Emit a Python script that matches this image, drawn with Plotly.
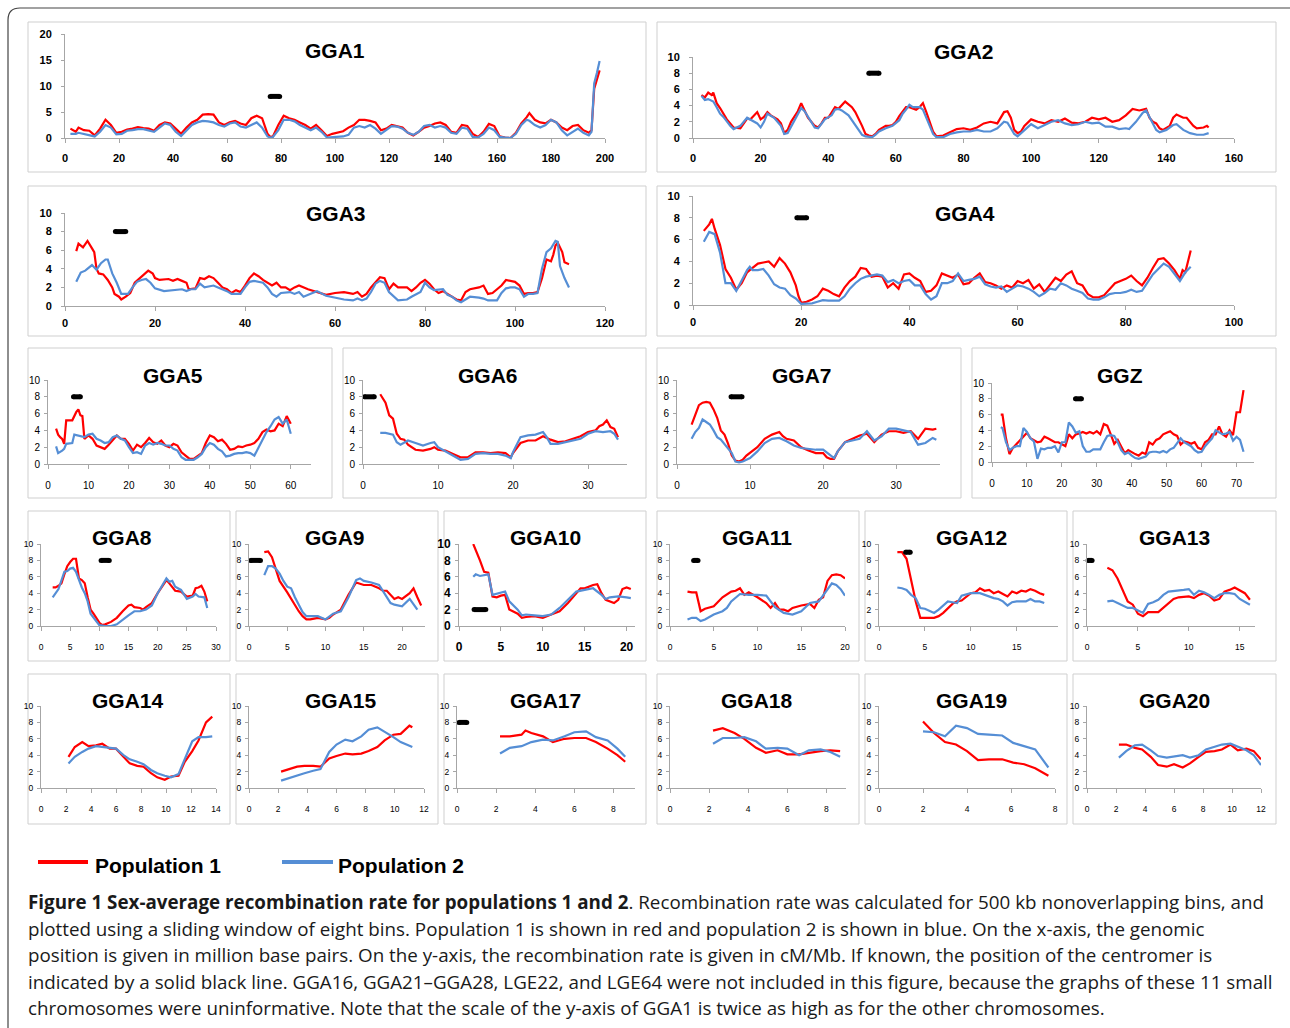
import plotly.graph_objects as go

W, H = 1290, 1028
RED = "#ff0000"
BLUE = "#558ed5"

# ---------------- data: (position Mb, recombination rate cM/Mb) ----------------
GGA1_POP1 = [(2,1.8),(4,1.2),(5,2.0),(7,1.5),(9,1.4),(11,0.5),(13,1.8),(15,3.5),(17,2.5),(19,1.0),(21,1.2),(23,1.6),(25,1.8),(27,2.1),(29,1.9),(31,1.8),(33,1.4),(35,2.5),(37,3.0),(39,2.8),(41,1.8),(43,0.8),(45,2.0),(47,3.0),(49,3.5),(51,4.5),(53,4.6),(55,4.5),(57,3.0),(59,2.5),(61,3.0),(63,3.3),(65,2.8),(67,2.5),(69,3.8),(71,4.3),(73,3.8),(75,0.8),(76,0.2),(77,0.3),(79,2.5),(81,4.3),(83,3.8),(85,3.5),(87,3.0),(89,2.5),(91,1.8),(93,2.5),(95,1.5),(97,0.4),(99,0.8),(101,1.0),(103,1.3),(105,2.0),(107,2.5),(109,3.5),(111,3.5),(113,3.3),(115,3.0),(117,1.5),(119,1.8),(121,2.5),(123,2.2),(125,2.0),(127,1.0),(129,0.5),(131,1.2),(133,2.0),(135,2.3),(137,2.8),(139,3.0),(141,2.5),(143,1.2),(145,1.0),(147,2.5),(149,2.3),(151,0.8),(153,0.2),(155,1.2),(157,2.7),(159,2.3),(161,0.3),(163,0.1),(165,0.0),(167,1.0),(169,2.8),(171,4.0),(172,4.8),(174,3.5),(176,3.0),(178,2.8),(180,3.5),(182,3.0),(184,2.0),(186,1.5),(188,2.3),(190,2.5),(192,1.5),(194,1.0),(195,1.5),(196,9.5),(197,11.5),(198,13.0)]
GGA1_POP2 = [(2,0.8),(4,0.8),(5,1.0),(7,0.8),(9,0.6),(11,0.3),(13,1.2),(15,2.5),(17,2.0),(19,0.7),(21,0.8),(23,1.4),(25,1.5),(27,1.7),(29,1.7),(31,1.5),(33,1.2),(35,2.0),(37,2.8),(39,2.5),(41,1.2),(43,0.4),(45,1.5),(47,2.5),(49,3.0),(51,3.3),(53,3.2),(55,3.0),(57,2.5),(59,2.2),(61,2.8),(63,3.0),(65,2.2),(67,2.0),(69,2.5),(71,3.0),(73,2.0),(75,0.3),(76,0.1),(77,0.2),(79,1.5),(81,3.5),(83,3.5),(85,3.2),(87,2.5),(89,2.0),(91,1.5),(93,2.0),(95,1.2),(97,0.1),(99,0.2),(101,0.3),(103,0.3),(105,0.6),(107,2.0),(109,2.3),(111,2.0),(113,2.5),(115,1.8),(117,0.8),(119,1.5),(121,2.3),(123,2.2),(125,1.8),(127,1.0),(129,0.6),(131,1.2),(133,2.3),(135,2.5),(137,2.0),(139,2.3),(141,2.0),(143,1.0),(145,0.8),(147,2.0),(149,1.8),(151,0.2),(153,0.1),(155,0.8),(157,2.0),(159,1.5),(161,0.2),(163,0.1),(165,0.0),(167,0.8),(169,2.5),(171,3.5),(172,3.3),(174,2.5),(176,2.0),(178,2.5),(180,3.5),(182,3.0),(184,1.5),(186,0.5),(188,1.2),(190,1.8),(192,1.0),(194,0.5),(195,1.2),(196,10.5),(197,12.5),(198,14.8)]

GGA2_POP1 = [(2.5,5.3),(3.5,5.0),(4.5,5.6),(5.5,5.3),(6,5.6),(7,4.3),(8,3.7),(9,3.0),(10,2.3),(11,1.8),(12,1.3),(14,1.2),(15,1.8),(16,2.4),(17,2.3),(18,2.8),(19,3.2),(20,2.3),(21,2.6),(22,3.2),(23,2.8),(25,2.3),(26,1.8),(27,0.6),(28,1.0),(29,2.0),(31,3.3),(32,4.3),(33,3.5),(34,2.5),(36,1.5),(37,1.3),(38,1.8),(39,2.5),(40,2.5),(42,3.8),(43,3.6),(44,4.0),(45,4.5),(47,3.8),(48,3.2),(50,1.5),(51,0.5),(52,0.3),(53,0.2),(54,0.5),(55,1.0),(57,1.5),(58,1.5),(59,1.6),(60,2.0),(61,2.7),(62,3.3),(63,3.8),(64,3.8),(65,3.6),(66,3.5),(67,3.8),(68,4.3),(69,3.2),(70,2.0),(71,0.8),(72,0.2),(74,0.3),(76,0.7),(78,1.1),(80,1.2),(82,1.0),(84,1.3),(86,1.8),(88,2.0),(90,1.8),(92,3.2),(93,3.3),(94,2.5),(95,1.0),(96,0.6),(97,0.8),(98,1.5),(100,2.3),(102,2.0),(104,1.8),(106,2.2),(108,2.0),(110,2.4),(112,1.9),(114,1.8),(116,2.0),(118,2.5),(120,2.3),(122,2.5),(124,2.0),(126,2.2),(128,2.8),(130,3.6),(132,3.4),(134,3.6),(135,2.5),(136,2.0),(137,1.8),(138,1.2),(139,1.0),(141,1.5),(142,2.5),(143,2.9),(145,2.5),(146,2.5),(147,2.0),(148,1.5),(149,1.2),(151,1.3),(152,1.5),(152.5,1.3)]
GGA2_POP2 = [(2.5,5.2),(3.5,4.7),(4.5,4.8),(6,4.5),(7,3.8),(8,3.0),(9,2.6),(10,2.0),(11,1.5),(12,1.1),(14,1.5),(16,2.5),(18,2.0),(19,1.8),(20,1.3),(21,2.0),(22,3.0),(24,2.5),(26,1.5),(27,0.5),(28,0.6),(30,2.2),(32,3.7),(33,3.3),(35,2.0),(36,1.3),(37,1.2),(39,2.3),(41,2.8),(42,3.5),(43,3.6),(44,3.4),(46,2.8),(47,2.2),(49,1.0),(50,0.4),(51,0.2),(53,0.1),(54,0.4),(55,0.8),(57,1.2),(59,1.5),(61,2.2),(62,3.0),(63,3.5),(64,4.1),(65,3.8),(67,3.8),(68,3.5),(69,2.5),(70,1.5),(71,0.5),(72,0.1),(74,0.1),(76,0.5),(78,0.7),(80,0.8),(82,0.8),(84,1.0),(86,0.8),(88,0.8),(90,1.2),(92,2.0),(93,1.9),(94,1.2),(95,0.5),(96,0.2),(97,0.6),(99,1.3),(100,1.7),(102,1.2),(104,1.6),(106,2.0),(108,2.2),(110,1.8),(112,1.6),(114,1.7),(116,2.0),(118,1.8),(120,1.9),(122,1.4),(124,1.4),(126,1.1),(128,1.2),(129,1.1),(131,2.0),(133,3.1),(134,3.4),(135,2.5),(136,1.8),(137,1.0),(138,0.7),(140,1.0),(142,1.6),(143,1.7),(145,1.0),(147,0.6),(149,0.4),(151,0.4),(152.5,0.6)]

GGA3_POP1 = [(2.5,5.9),(3,6.7),(4,6.3),(5,7.0),(6,6.2),(6.5,5.8),(7,4.0),(7.5,3.5),(8.5,3.4),(9.5,2.8),(10.5,2.0),(11,1.3),(12,1.0),(12.5,0.7),(13.5,1.0),(14.5,1.4),(15.5,2.5),(16.5,2.9),(17.5,3.3),(18.5,3.8),(19.5,3.5),(20,3.0),(21,2.8),(23,2.9),(24,2.7),(25,2.9),(26,2.7),(27,2.5),(27.5,1.8),(29,1.9),(30,3.0),(31,2.9),(32,3.2),(33,3.0),(34,2.5),(35,2.0),(36,1.8),(37,1.4),(38,1.7),(39,1.5),(40,2.2),(41,3.0),(42,3.5),(43,3.2),(44,2.8),(45,2.5),(46,2.2),(47,2.5),(48,2.0),(49,2.0),(50,1.7),(51,2.0),(52,2.2),(54,1.8),(56,1.5),(58,1.2),(60,1.4),(62,1.5),(64,1.3),(65,1.5),(66,1.0),(67,1.3),(68,2.0),(69,2.5),(70,3.1),(71,3.0),(72,1.8),(73,2.4),(74,2.0),(76,2.0),(77,1.6),(78,2.0),(79,2.5),(80,2.8),(81,2.4),(82,1.8),(83,1.4),(84,1.6),(85,1.3),(86,1.0),(87,0.7),(88,0.6),(89,1.5),(90,1.8),(92,2.0),(93,2.2),(94,1.3),(95,1.4),(97,2.2),(98,2.8),(100,2.6),(101,2.2),(102,1.3),(103,1.4),(104,1.4),(105,1.5),(106,3.0),(107,5.0),(108,4.8),(108.5,5.5),(109,6.5),(109.5,6.8),(110.5,5.8),(111,4.7),(112,4.5)]
GGA3_POP2 = [(2.5,2.6),(3.5,3.6),(4.5,3.8),(5.5,4.2),(6,4.4),(7,3.9),(8,4.6),(9,5.0),(9.5,5.0),(10.5,3.5),(11.5,2.5),(12.5,1.3),(14,1.3),(15,2.0),(16,2.6),(17,2.8),(18,2.9),(19,2.5),(20,1.9),(22,1.6),(24,1.7),(26,1.8),(27,1.6),(28,1.8),(29,1.8),(30,2.4),(31,2.0),(32,2.1),(33,2.2),(34,2.0),(36,1.6),(37,1.3),(39,1.3),(40,2.0),(41,2.6),(42,2.7),(44,2.5),(45,2.0),(46,1.3),(47,1.0),(48,1.4),(50,1.5),(51,1.3),(52,1.5),(53,1.0),(55,1.4),(56,1.6),(58,1.1),(60,0.9),(62,0.7),(64,0.6),(65,0.8),(66,0.6),(67,0.8),(68,1.5),(69,2.4),(70,2.7),(71,2.5),(72,1.5),(73,1.0),(74,0.6),(76,0.7),(77,1.0),(79,1.5),(80,2.5),(81,2.0),(82,1.7),(84,1.8),(85,1.2),(86,1.0),(87,0.6),(88,0.4),(89,0.7),(90,1.0),(92,0.9),(93,0.8),(94,0.6),(96,0.6),(97,1.4),(98,1.9),(99,2.0),(100,2.0),(101,1.8),(102,1.0),(103,1.3),(104,1.3),(105,1.4),(106,4.0),(107,5.8),(108,6.2),(109,7.0),(109.5,6.9),(110,4.3),(111,3.0),(112,2.0)]

GGA4_POP1 = [(2,6.8),(3,7.4),(3.5,7.9),(4,7.0),(5,5.5),(6,3.3),(7,2.5),(8,1.4),(9,2.0),(10,3.0),(11,3.4),(12,3.8),(13,3.9),(14,4.0),(15,3.5),(16,4.3),(17,3.8),(18,3.0),(19,1.8),(19.5,0.8),(20,0.2),(21,0.3),(22,0.5),(23,0.8),(24,1.5),(25,1.3),(26,1.0),(27,0.8),(28,1.6),(29,2.2),(30,2.6),(31,3.4),(32,3.3),(33,2.6),(34,2.7),(35,2.6),(36,1.6),(37,2.0),(38,1.5),(39,2.8),(40,2.9),(41,2.5),(42,2.2),(43,1.2),(44,1.3),(45,1.8),(46,2.9),(47,2.7),(48,2.5),(49,2.8),(50,1.9),(51,2.0),(52,2.5),(53,2.9),(54,2.1),(55,2.0),(56,1.8),(57,1.5),(58,1.8),(59,1.6),(60,2.2),(61,2.0),(62,2.3),(63,1.5),(64,1.9),(65,1.2),(66,1.8),(67,2.5),(68,2.2),(69,2.8),(70,3.1),(71,2.0),(72,1.8),(73,1.0),(74,0.7),(75,0.7),(76,0.9),(77,1.5),(78,2.0),(79,2.2),(80,2.4),(81,2.7),(82,2.2),(83,1.8),(84,2.5),(85,3.4),(86,4.2),(87,4.3),(88,3.8),(89,3.2),(90,2.4),(90.5,3.2),(91,3.0),(92,5.0)]
GGA4_POP2 = [(2,5.8),(3,6.7),(4,6.5),(5,4.8),(6,2.0),(7,2.0),(8,1.3),(9,2.3),(10,3.2),(10.5,3.5),(11,3.2),(12,3.2),(13,3.3),(14,2.7),(15,1.9),(16,1.6),(17,1.5),(18,0.9),(19,0.6),(20,0.1),(21,0.1),(22,0.15),(23,0.3),(24,0.45),(25,0.4),(26,0.4),(27,0.4),(28,0.8),(29,1.5),(30,2.0),(31,2.4),(32,2.6),(33,2.7),(34,2.8),(35,2.7),(36,2.1),(37,2.3),(38,2.0),(39,2.2),(40,2.3),(41,1.8),(42,1.8),(43,1.0),(44,0.5),(45,0.8),(46,2.0),(47,2.0),(48,2.2),(49,2.9),(50,2.2),(51,2.3),(52,2.4),(53,2.6),(54,1.9),(55,1.7),(56,1.6),(57,1.7),(58,1.2),(59,1.5),(60,1.8),(61,1.7),(62,1.5),(63,1.2),(64,0.8),(65,1.1),(66,1.5),(67,1.4),(68,2.0),(69,1.8),(70,1.5),(71,1.3),(72,1.1),(73,0.6),(74,0.5),(75,0.5),(76,0.7),(77,1.0),(78,1.1),(79,1.1),(80,1.2),(81,1.4),(82,1.2),(83,1.3),(84,2.0),(85,2.8),(86,3.3),(87,3.8),(88,3.5),(89,2.8),(90,2.2),(91,3.0),(92,3.5)]

GGA5_POP1 = [(2,4.2),(2.5,3.5),(3,3.2),(3.5,3.0),(4,2.4),(4.5,5.2),(6,5.2),(6.5,5.8),(7,6.2),(7.5,6.5),(8,5.8),(8.5,5.7),(9,3.0),(10,3.4),(11,3.0),(12,2.2),(13,2.0),(14,1.8),(15,2.3),(16,2.8),(17,3.4),(18,3.0),(19,3.0),(20,2.4),(21,1.6),(22,2.3),(23,2.0),(24,2.5),(25,3.1),(26,2.6),(27,2.4),(28,2.8),(29,2.2),(30,2.0),(31,2.4),(32,2.2),(33,1.4),(34,1.0),(35,0.6),(36,0.6),(37,1.0),(38,1.3),(39,2.5),(40,3.4),(41,3.2),(42,2.7),(43,2.9),(44,2.4),(45,1.7),(46,1.8),(47,2.1),(48,2.0),(49,2.2),(50,2.3),(51,2.5),(52,3.0),(53,3.8),(54,4.1),(55,3.9),(56,4.0),(57,4.8),(58,4.5),(59,5.7),(60,4.8)]
GGA5_POP2 = [(2,2.1),(2.5,1.3),(3.5,1.6),(4,1.8),(4.5,2.4),(6,2.5),(6.5,3.5),(7.5,3.4),(9,3.2),(10,3.5),(11,3.6),(12,3.0),(13,2.8),(14,2.5),(15,2.6),(16,3.2),(17,3.4),(18,3.0),(19,2.8),(20,2.0),(21,1.3),(22,1.4),(23,1.2),(24,2.2),(25,2.5),(26,2.3),(27,2.5),(28,2.4),(29,2.2),(30,2.2),(31,1.8),(32,1.6),(33,0.8),(34,0.5),(35,0.5),(36,0.5),(37,0.8),(38,1.2),(39,2.0),(40,2.5),(41,2.3),(42,1.8),(43,1.5),(44,0.9),(45,1.0),(46,1.2),(47,1.3),(48,1.3),(49,1.4),(50,1.3),(51,1.0),(52,2.0),(53,2.8),(54,3.8),(55,4.5),(56,5.3),(57,5.6),(58,4.8),(59,5.3),(60,3.6)]

GGA6_POP1 = [(2.3,8.3),(3,7.3),(3.5,5.8),(4,5.4),(4.5,3.6),(5,3.0),(5.5,2.9),(6,2.3),(7,1.7),(8,1.6),(9,1.8),(9.5,2.0),(10,1.7),(11,1.6),(12,1.2),(13,0.8),(14,0.8),(15,1.4),(16,1.4),(17,1.3),(18,1.4),(19,1.3),(19.7,0.8),(20,1.3),(21,2.5),(22,2.8),(23,2.8),(24,3.3),(25,2.9),(26,2.6),(27,2.7),(28,3.0),(29,3.3),(30,3.8),(31,4.0),(31.5,4.5),(32,4.7),(32.5,5.2),(33,4.4),(33.5,4.2),(34,3.2)]
GGA6_POP2 = [(2.3,3.7),(3,3.7),(4,3.5),(4.5,2.6),(5,2.3),(6,2.8),(7,2.5),(8,2.2),(9,2.5),(9.5,2.6),(10,2.0),(11,1.5),(12,1.0),(13,0.5),(14,0.6),(15,1.2),(16,1.3),(17,1.2),(18,1.2),(19,1.0),(19.7,0.7),(20,1.4),(21,3.2),(22,3.4),(23,3.5),(24,3.8),(24.5,3.2),(25,2.4),(26,2.4),(27,2.6),(28,2.8),(29,3.0),(30,3.6),(31,3.9),(32,3.8),(33,3.9),(33.5,3.6),(34,2.9)]

GGA7_POP1 = [(2,4.7),(2.5,5.8),(3,7.0),(3.5,7.3),(4,7.4),(4.5,7.3),(5,6.5),(5.5,5.5),(6,4.0),(6.5,3.5),(7,2.4),(7.5,1.0),(8,0.4),(8.5,0.3),(9,0.5),(9.5,1.0),(10,1.3),(11,2.0),(12,3.0),(13,3.5),(14,3.8),(14.5,3.3),(15,3.0),(16,2.8),(17,2.0),(18,1.6),(19,1.3),(20,1.3),(20.5,0.8),(21,0.6),(21.5,0.6),(22,1.5),(23,2.6),(24,3.0),(25,3.4),(26,3.6),(27,2.6),(28,3.5),(29,3.9),(30,3.9),(31,3.7),(32,3.9),(33,3.0),(34,4.2),(35,4.1),(35.5,4.2)]
GGA7_POP2 = [(2,3.0),(2.5,3.8),(3,4.3),(3.5,5.3),(4,5.0),(4.5,4.7),(5,4.0),(5.5,3.2),(6,2.9),(7,1.8),(7.5,1.3),(8,0.3),(8.5,0.2),(9,0.3),(10,0.7),(11,1.5),(12,2.5),(13,3.0),(14,3.1),(15,2.7),(16,2.2),(17,1.9),(18,1.8),(19,1.7),(20,1.7),(21,1.0),(21.5,0.7),(22,1.5),(23,2.6),(24,2.8),(25,3.0),(26,3.9),(27,2.8),(28,3.3),(29,4.2),(30,4.2),(31,4.0),(32,3.8),(33,2.3),(34,2.5),(35,3.1),(35.5,2.9)]

GGZ_POP1 = [(2.5,6.0),(3,6.0),(4,3.0),(5,1.0),(6,1.8),(7,2.3),(8,2.8),(9,3.3),(10,3.7),(11,3.0),(12,2.8),(13,2.5),(14,2.6),(15,3.2),(16,3.0),(17,2.8),(18,2.5),(19,2.5),(20,2.2),(21,2.0),(22,3.5),(23,3.0),(24,3.5),(25,3.6),(26,3.8),(27,3.6),(28,3.8),(29,3.6),(30,3.9),(31,3.5),(32,4.8),(33,4.6),(34,3.5),(35,2.3),(36,2.8),(37,2.0),(38,1.1),(39,1.5),(40,1.2),(41,1.0),(42,0.8),(43,1.2),(44,1.0),(45,2.5),(46,2.2),(47,2.8),(48,3.0),(49,3.5),(50,3.7),(51,3.9),(52,3.5),(53,3.3),(54,2.2),(55,2.6),(56,2.5),(57,2.3),(58,2.5),(59,1.8),(60,1.6),(61,2.5),(62,2.8),(63,3.5),(64,3.5),(65,4.5),(66,3.5),(67,3.2),(68,4.0),(69,3.4),(70,6.3),(71,6.3),(72,9.1)]
GGZ_POP2 = [(2.5,4.4),(3,4.3),(4,2.5),(5,1.5),(6,1.8),(7,2.0),(8,2.0),(9,4.3),(10,3.8),(11,3.0),(12,2.6),(13,0.4),(14,1.7),(15,1.6),(16,1.8),(17,1.8),(18,2.0),(19,1.2),(20,2.5),(21,2.5),(22,5.0),(23,4.5),(24,3.7),(25,3.9),(26,2.0),(27,1.3),(28,1.3),(29,1.6),(30,1.6),(31,1.6),(32,2.5),(33,3.3),(34,3.4),(35,3.3),(36,2.5),(37,1.5),(38,1.0),(39,1.2),(40,0.8),(41,0.5),(42,0.4),(43,0.6),(44,0.7),(45,1.2),(46,1.3),(47,1.3),(48,1.2),(49,1.4),(50,1.2),(51,1.6),(52,1.8),(53,2.4),(54,3.0),(55,2.5),(56,2.3),(57,2.0),(58,1.5),(59,1.2),(60,1.3),(61,2.0),(62,2.5),(63,3.0),(64,4.0),(65,3.8),(66,3.5),(67,3.6),(68,3.8),(69,2.7),(70,3.2),(71,2.8),(72,1.3)]

GGA8_POP1 = [(2,4.7),(2.5,4.7),(3,4.9),(3.5,5.2),(4,6.3),(4.5,7.3),(5,7.8),(5.5,8.2),(6,8.2),(6.5,5.8),(7,5.6),(7.5,5.2),(8,3.5),(8.5,2.0),(9,1.5),(9.5,1.0),(10,0.4),(10.5,0.1),(11,0.2),(12,0.5),(13,1.0),(14,1.8),(15,2.5),(15.5,2.6),(16,2.3),(17,2.2),(17.5,2.0),(18,2.3),(19,2.8),(20,4.0),(21,5.0),(21.5,5.6),(22,5.2),(23,4.3),(24,4.2),(25,3.6),(26,3.7),(26.5,4.6),(27,4.7),(27.5,4.9),(28,4.2),(28.5,3.0)]
GGA8_POP2 = [(2,3.5),(3,4.5),(4,6.6),(4.5,6.7),(5,7.0),(5.5,7.1),(6,6.6),(6.5,5.5),(7,4.7),(7.5,4.0),(8,3.0),(8.5,1.5),(9,1.0),(9.5,0.6),(10,0.1),(11,0.0),(12,0.0),(13,0.2),(14,0.8),(15,1.3),(16,1.8),(17,1.8),(18,2.0),(19,2.5),(20,4.0),(21,5.2),(21.5,5.8),(22,5.4),(22.5,5.5),(23,4.8),(24,4.4),(25,3.3),(26,3.6),(26.5,3.9),(27,3.6),(28,3.5),(28.5,2.2)]

GGA9_POP1 = [(2,9.0),(2.5,9.1),(3,8.4),(3.5,7.0),(4,5.5),(5,4.1),(6,2.5),(6.5,1.8),(7,1.2),(7.5,0.8),(8,0.8),(9,1.0),(10,0.8),(10.5,1.0),(11,1.4),(12,2.0),(13,3.8),(14,5.3),(15,5.0),(16,5.0),(17,4.6),(17.5,4.3),(18,4.3),(19,3.3),(19.5,3.5),(20,3.3),(21,4.0),(21.5,4.6),(22,3.5),(22.5,2.5)]
GGA9_POP2 = [(2,6.2),(2.5,7.3),(3,7.3),(3.5,7.0),(4,6.4),(4.5,5.5),(5,4.8),(5.5,4.6),(6,3.5),(7,1.7),(7.5,1.2),(8,1.2),(9,1.2),(10,0.8),(11,1.5),(12,1.8),(13,3.5),(14,5.6),(14.5,5.8),(15,5.5),(16,5.3),(17,5.0),(18,3.5),(18.5,2.8),(19,2.6),(20,2.4),(21,3.3),(22,2.0)]

GGA10_POP1 = [(1.7,10.0),(2,9.3),(2.5,8.0),(3,6.6),(3.5,6.5),(4,3.6),(4.5,3.5),(5,3.7),(5.5,3.8),(6,2.0),(7,1.5),(7.5,1.0),(8,1.1),(9,1.2),(10,1.0),(11,1.4),(12,1.8),(13,2.8),(14,4.0),(14.5,4.6),(15,4.6),(16,5.0),(16.5,5.1),(17,4.0),(17.5,3.2),(18,3.0),(18.5,2.8),(19,3.2),(19.5,4.5),(20,4.7),(20.5,4.5)]
GGA10_POP2 = [(1.7,6.0),(2,6.3),(2.5,6.1),(3,6.2),(3.5,6.3),(4,3.8),(5,4.1),(5.5,4.2),(6,3.0),(7,2.0),(7.5,1.3),(8,1.4),(9,1.3),(10,1.2),(11,1.4),(12,2.2),(13,3.2),(14,4.2),(15,4.4),(16,4.6),(17,3.8),(17.5,3.3),(18,3.5),(19,3.6),(20,3.5),(20.5,3.4)]

GGA11_POP1 = [(2,4.2),(2.5,4.1),(3,4.1),(3.5,1.8),(4,2.1),(5,2.4),(6,3.5),(7,4.2),(7.5,4.3),(8,4.6),(8.5,3.8),(9,4.1),(10,3.5),(10.5,3.1),(11,2.8),(11.5,2.2),(12,2.8),(12.5,2.0),(13,2.0),(13.5,1.8),(14,2.2),(15,2.5),(16,2.7),(16.5,2.2),(17,3.2),(17.5,3.5),(18,5.5),(18.5,6.2),(19,6.3),(19.5,6.2),(20,5.8)]
GGA11_POP2 = [(2,0.8),(2.5,1.0),(3,1.0),(3.5,0.6),(4,0.8),(5,1.4),(6,1.8),(6.5,2.2),(7,3.0),(8,3.9),(9,3.8),(10,3.8),(11,3.7),(12,2.3),(13,1.6),(14,1.4),(15,1.8),(16,2.8),(17,3.0),(18,4.4),(18.5,5.2),(19,5.0),(19.5,4.5),(20,3.7)]

GGA12_POP1 = [(2,9.0),(2.5,9.0),(3,8.2),(3.5,5.5),(4,3.0),(4.5,1.0),(5,1.0),(6,1.0),(6.5,1.2),(7,1.6),(8,2.7),(8.5,3.0),(9,3.1),(9.5,3.5),(10,4.0),(10.5,4.1),(11,4.6),(11.5,4.3),(12,4.4),(12.5,4.0),(13,4.2),(13.5,3.9),(14,3.6),(14.5,4.2),(15,4.0),(15.5,4.3),(16,4.2),(16.5,4.5),(17,4.3),(17.5,4.0),(18,3.8)]
GGA12_POP2 = [(2,4.7),(2.5,4.6),(3,4.4),(3.5,3.8),(4,3.4),(4.5,2.2),(5,2.1),(6,1.6),(6.5,2.0),(7,2.5),(7.5,3.0),(8,2.9),(8.5,2.8),(9,3.7),(10,4.0),(11,4.0),(12,3.6),(12.5,3.4),(13,3.3),(13.5,3.0),(14,2.5),(14.5,2.9),(15,3.0),(16,3.0),(16.5,3.3),(17,3.0),(17.5,3.0),(18,2.8)]

GGA13_POP1 = [(2,7.1),(2.5,6.8),(3,5.8),(3.5,4.5),(4,3.0),(4.5,2.6),(5,1.5),(5.5,1.2),(6,1.7),(7,1.7),(7.5,2.2),(8,2.8),(8.5,3.3),(9,3.5),(10,3.6),(10.5,3.4),(11,3.8),(11.5,4.0),(12,3.7),(12.5,3.1),(13,3.3),(13.5,4.2),(14,4.4),(14.5,4.7),(15,4.3),(15.5,4.0),(16,3.2)]
GGA13_POP2 = [(2,3.0),(2.5,3.1),(3,2.8),(3.5,2.5),(4,2.2),(4.5,2.2),(5,1.9),(5.5,1.6),(6,2.7),(6.5,2.9),(7,3.2),(7.5,3.8),(8,4.2),(9,4.3),(9.5,4.4),(10,4.5),(10.5,3.8),(11,4.3),(11.5,4.1),(12,3.8),(12.5,3.4),(13,3.8),(13.5,4.0),(14,4.0),(14.5,3.9),(15,3.3),(15.5,3.0),(16,2.6)]

GGA14_POP1 = [(2.2,3.8),(2.7,5.0),(3.3,5.6),(3.8,5.1),(4.4,5.2),(4.9,5.4),(5.5,4.8),(6,4.8),(6.6,3.8),(7.1,3.0),(7.7,2.7),(8.2,2.6),(8.8,1.8),(9.3,1.3),(9.9,1.0),(10.4,1.4),(11,1.5),(11.5,3.2),(12.1,4.5),(12.6,5.8),(13.2,8.0),(13.7,8.7)]
GGA14_POP2 = [(2.2,3.0),(2.7,3.8),(3.3,4.4),(3.8,4.8),(4.4,5.1),(4.9,5.0),(5.5,4.9),(6,4.8),(6.6,4.0),(7.1,3.5),(7.7,3.2),(8.2,2.9),(8.8,2.2),(9.3,1.8),(9.9,1.5),(10.4,1.3),(11,1.7),(11.5,3.6),(12.1,5.7),(12.6,6.2),(13.2,6.2),(13.7,6.3)]

GGA15_POP1 = [(2.2,2.0),(2.7,2.3),(3.3,2.6),(3.8,2.7),(4.4,2.7),(4.9,2.6),(5.5,3.6),(6,3.9),(6.6,4.2),(7.1,4.1),(7.7,4.2),(8.2,4.5),(8.8,5.0),(9.3,5.8),(9.9,6.5),(10.4,6.6),(11,7.6),(11.2,7.4)]
GGA15_POP2 = [(2.2,0.9),(2.7,1.2),(3.3,1.5),(3.8,1.8),(4.4,2.1),(4.9,2.3),(5.5,4.4),(6,5.3),(6.6,5.9),(7.1,5.7),(7.7,6.3),(8.2,7.1),(8.8,7.4),(9.3,6.9),(9.9,6.2),(10.4,5.6),(11,5.2),(11.2,5.0)]

GGA17_POP1 = [(2.2,6.3),(2.7,6.3),(3.3,6.5),(3.5,7.0),(3.8,6.7),(4.4,6.3),(4.9,5.6),(5.5,6.0),(6,6.1),(6.6,6.1),(7.1,5.6),(7.7,4.8),(8.2,4.0),(8.6,3.2)]
GGA17_POP2 = [(2.2,4.2),(2.7,4.9),(3.3,5.1),(3.8,5.6),(4.4,5.9),(4.9,5.8),(5.5,6.3),(6,6.8),(6.6,6.9),(7.1,6.2),(7.7,5.8),(8.2,4.8),(8.6,3.8)]

GGA18_POP1 = [(2.2,7.0),(2.7,7.3),(3.3,6.7),(3.8,6.0),(4.4,4.9),(4.9,4.3),(5.5,4.6),(6,4.1),(6.6,4.1),(7.1,4.3),(7.7,4.5),(8.2,4.6),(8.7,4.5)]
GGA18_POP2 = [(2.2,5.4),(2.7,6.1),(3.3,6.1),(3.8,6.2),(4.4,5.7),(4.9,4.8),(5.5,4.9),(6,4.8),(6.6,4.0),(7.1,4.6),(7.7,4.7),(8.2,4.4),(8.7,3.8)]

GGA19_POP1 = [(2.0,8.1),(2.5,6.7),(3.0,5.6),(3.5,5.3),(4.0,4.5),(4.5,3.4),(5.0,3.5),(5.6,3.5),(6.1,3.1),(6.6,2.9),(7.1,2.4),(7.7,1.5)]
GGA19_POP2 = [(2.0,6.9),(2.5,6.8),(3.0,6.3),(3.5,7.6),(4.0,7.3),(4.5,6.6),(5.0,6.5),(5.6,6.4),(6.1,5.5),(6.6,5.1),(7.1,4.7),(7.7,2.5)]

GGA20_POP1 = [(2.2,5.3),(2.7,5.3),(3.3,4.9),(3.8,4.7),(4.4,3.8),(4.9,2.8),(5.5,2.6),(6,2.9),(6.6,2.5),(7.1,3.0),(7.7,3.8),(8.2,4.4),(8.8,4.5),(9.3,4.7),(9.9,5.3),(10.4,4.6),(11,4.8),(11.5,4.5),(12,3.5)]
GGA20_POP2 = [(2.2,3.7),(2.7,4.5),(3.3,5.2),(3.8,5.3),(4.4,4.6),(4.9,3.9),(5.5,3.7),(6,3.8),(6.6,4.0),(7.1,3.7),(7.7,4.0),(8.2,4.7),(8.8,5.0),(9.3,5.3),(9.9,5.4),(10.4,5.0),(11,4.6),(11.5,4.0),(12,2.8)]

# centromere positions: (start Mb, end Mb, drawn at y)
CENTROMERES = {
    "GGA1": (76, 79.5, 8), "GGA2": (52, 55, 8), "GGA3": (11.2, 13.5, 8), "GGA4": (19.2, 21, 8),
    "GGA5": (6.3, 8.0, 8), "GGA6": (0.2, 1.5, 8), "GGA7": (7.4, 8.9, 8), "GGZ": (23.9, 25.6, 8),
    "GGA8": (10.3, 11.7, 8), "GGA9": (0.2, 1.5, 8), "GGA10": (1.8, 3.2, 2), "GGA11": (2.7, 3.2, 8),
    "GGA12": (2.9, 3.4, 9), "GGA13": (0.1, 0.5, 8), "GGA17": (0.1, 0.5, 8),
}

CAPTION = [
    "<b>Figure 1 Sex-average recombination rate for populations 1 and 2</b>. Recombination rate was calculated for 500 kb nonoverlapping bins, and",
    "plotted using a sliding window of eight bins. Population 1 is shown in red and population 2 is shown in blue. On the x-axis, the genomic",
    "position is given in million base pairs. On the y-axis, the recombination rate is given in cM/Mb. If known, the position of the centromer is",
    "indicated by a solid black line. GGA16, GGA21\u2013GGA28, LGE22, and LGE64 were not included in this figure, because the graphs of these 11 small",
    "chromosomes were uninformative. Note that the scale of the y-axis of GGA1 is twice as high as for the other chromosomes.",
]

SERIES = {
    "GGA1": (GGA1_POP1, GGA1_POP2), "GGA2": (GGA2_POP1, GGA2_POP2), "GGA3": (GGA3_POP1, GGA3_POP2),
    "GGA4": (GGA4_POP1, GGA4_POP2), "GGA5": (GGA5_POP1, GGA5_POP2), "GGA6": (GGA6_POP1, GGA6_POP2),
    "GGA7": (GGA7_POP1, GGA7_POP2), "GGZ": (GGZ_POP1, GGZ_POP2), "GGA8": (GGA8_POP1, GGA8_POP2),
    "GGA9": (GGA9_POP1, GGA9_POP2), "GGA10": (GGA10_POP1, GGA10_POP2), "GGA11": (GGA11_POP1, GGA11_POP2),
    "GGA12": (GGA12_POP1, GGA12_POP2), "GGA13": (GGA13_POP1, GGA13_POP2), "GGA14": (GGA14_POP1, GGA14_POP2),
    "GGA15": (GGA15_POP1, GGA15_POP2), "GGA17": (GGA17_POP1, GGA17_POP2), "GGA18": (GGA18_POP1, GGA18_POP2),
    "GGA19": (GGA19_POP1, GGA19_POP2), "GGA20": (GGA20_POP1, GGA20_POP2),
}

# ---------------- layout geometry (pixels) ----------------
R1, R2, R3, R4, R5 = (22, 172), (186, 336), (348, 498), (511, 661), (674, 824)
PANELS = [
    ("GGA1", (28, 646) + R1, (65, 605), 200, 20, (138, 34), 20, 5, "big1", (335, 50)),
    ("GGA2", (657, 1276) + R1, (693, 1234), 160, 20, (138, 57), 10, 2, "big1", (964, 51)),
    ("GGA3", (28, 646) + R2, (65, 605), 120, 20, (306, 213), 10, 2, "big2", (336, 213)),
    ("GGA4", (657, 1276) + R2, (693, 1234), 100, 20, (305, 196), 10, 2, "big2", (965, 213)),
    ("GGA5", (28, 332) + R3, (48, 311), 65, 10, (464, 380), 10, 2, "mid", (173, 375)),
    ("GGA6", (343, 646) + R3, (363, 627), 35.2, 10, (464, 380), 10, 2, "mid", (488, 375)),
    ("GGA7", (657, 961) + R3, (677, 940), 36, 10, (464, 380), 10, 2, "mid", (802, 375)),
    ("GGZ", (972, 1276) + R3, (992, 1254), 75, 10, (462, 383), 10, 2, "mid", (1120, 375)),
    ("GGA8", (28, 230) + R4, (41, 216), 30, 5, (626, 544), 10, 2, "small", (122, 537)),
    ("GGA9", (236, 438) + R4, (249, 425), 23, 5, (626, 544), 10, 2, "small", (335, 537)),
    ("GGA10", (444, 646) + R4, (459, 635), 21, 5, (626, 544), 10, 2, "bold", (545, 537)),
    ("GGA11", (657, 859) + R4, (670, 845), 20, 5, (626, 544), 10, 2, "small", (757, 537)),
    ("GGA12", (865, 1067) + R4, (879, 1058), 19.5, 5, (626, 544), 10, 2, "small", (971, 537)),
    ("GGA13", (1073, 1276) + R4, (1087, 1255), 16.5, 5, (626, 544), 10, 2, "small", (1174, 537)),
    ("GGA14", (28, 230) + R5, (41, 216), 14, 2, (788, 706), 10, 2, "small", (128, 700)),
    ("GGA15", (236, 438) + R5, (249, 424), 12, 2, (788, 706), 10, 2, "small", (341, 700)),
    ("GGA17", (444, 646) + R5, (457, 635), 9.1, 2, (788, 706), 10, 2, "small", (545, 700)),
    ("GGA18", (657, 859) + R5, (670, 846), 9, 2, (788, 706), 10, 2, "small", (757, 700)),
    ("GGA19", (865, 1067) + R5, (879, 1055), 8, 2, (788, 706), 10, 2, "small", (971, 700)),
    ("GGA20", (1073, 1276) + R5, (1087, 1261), 12, 2, (788, 706), 10, 2, "small", (1174, 700)),
]

BOLD11 = dict(family="Liberation Sans, Arial", size=11, color="black", weight="bold")
STYLES = {
    "big1": dict(font=BOLD11, xs=6, ys=7),
    "big2": dict(font=BOLD11, xs=3, ys=7),
    "mid": dict(font=dict(family="Liberation Sans Narrow, Liberation Sans, Arial", size=10, color="black"), xs=8, ys=2),
    "small": dict(font=dict(family="Liberation Sans Narrow, Liberation Sans, Arial", size=8.5, color="black"), xs=9, ys=2),
    "bold": dict(font=dict(family="Liberation Sans, Arial", size=12, color="black", weight="bold"), xs=6, ys=2),
}


def fx(p):
    return p / W


def fy(p):
    return 1 - p / H


fig = go.Figure()
shapes, annotations = [], []
layout = {}
AXIS_COLOR = "#a6a6a6"

for i, (name, box, xpx, xmax, xdt, ypx, ymax, ydt, style, tpos) in enumerate(PANELS, start=1):
    sfx = "" if i == 1 else str(i)
    st = STYLES[style]
    layout["xaxis" + sfx] = dict(
        domain=[fx(xpx[0]), fx(xpx[1])], range=[0, xmax], anchor="y" + sfx,
        tickmode="linear", tick0=0, dtick=xdt, showgrid=False, zeroline=False,
        showline=True, linecolor=AXIS_COLOR, linewidth=1, ticks="outside", ticklen=4,
        tickcolor=AXIS_COLOR, tickfont=st["font"], ticklabelstandoff=st["xs"], fixedrange=True,
        automargin=False,
    )
    layout["yaxis" + sfx] = dict(
        domain=[fy(ypx[0]), fy(ypx[1])], range=[0, ymax], anchor="x" + sfx,
        tickmode="linear", tick0=0, dtick=ydt, showgrid=False, zeroline=False,
        showline=True, linecolor=AXIS_COLOR, linewidth=1, ticks="outside", ticklen=3,
        tickcolor=AXIS_COLOR, tickfont=st["font"], ticklabelstandoff=st["ys"], fixedrange=True,
        automargin=False,
    )
    p1, p2 = SERIES[name]
    for data, col in ((p1, RED), (p2, BLUE)):
        xs, ys = zip(*data)
        fig.add_trace(go.Scatter(x=list(xs), y=list(ys), mode="lines", xaxis="x" + sfx, yaxis="y" + sfx,
                                 line=dict(color=col, width=2.2), showlegend=False, cliponaxis=False,
                                 hoverinfo="skip"))
    if name in CENTROMERES:
        c0, c1, cy = CENTROMERES[name]
        fig.add_trace(go.Scatter(x=[c0, c1], y=[cy, cy], mode="lines+markers", xaxis="x" + sfx, yaxis="y" + sfx,
                                 line=dict(color="black", width=5), marker=dict(color="black", size=5),
                                 showlegend=False, cliponaxis=False, hoverinfo="skip"))
    shapes.append(dict(type="rect", xref="paper", yref="paper", x0=fx(box[0]), x1=fx(box[1]),
                       y0=fy(box[3]), y1=fy(box[2]), line=dict(color="#cfcfcf", width=1), layer="below"))
    annotations.append(dict(text="<b>" + name + "</b>", x=fx(tpos[0]), y=fy(tpos[1]), xref="paper", yref="paper",
                            showarrow=False, xanchor="center", yanchor="middle",
                            font=dict(family="Liberation Sans, Arial", size=21, color="black")))

# legend (drawn manually to match figure)
for lx0, lx1, col, label, tx in ((38, 88, RED, "Population 1", 93), (282, 333, BLUE, "Population 2", 336)):
    shapes.append(dict(type="line", xref="paper", yref="paper", x0=fx(lx0), x1=fx(lx1), y0=fy(862), y1=fy(862),
                       line=dict(color=col, width=4)))
    annotations.append(dict(text="<b>" + label + "</b>", x=fx(tx), y=fy(865), xref="paper", yref="paper",
                            showarrow=False, xanchor="left", yanchor="middle",
                            font=dict(family="Liberation Sans, Arial", size=21, color="black")))

# caption
for k, line in enumerate(CAPTION):
    annotations.append(dict(text=line, x=fx(26), y=fy(902 + k * 26.5), xref="paper", yref="paper",
                            showarrow=False, xanchor="left", yanchor="middle",
                            font=dict(family="Open Sans", size=18.8, color="#1a1a1a")))

# outer frame
shapes.append(dict(type="path", xref="paper", yref="paper",
                   path="M {} {} L {} {} Q {} {} {} {} L {} {}".format(fx(8), fy(1028), fx(8), fy(20), fx(8), fy(8),
                                                                        fx(20), fy(8), fx(1290), fy(8)),
                   line=dict(color="#444444", width=1.2)))

fig.update_layout(width=W, height=H, margin=dict(l=0, r=0, t=0, b=0, pad=0, autoexpand=False),
                  paper_bgcolor="white", plot_bgcolor="white", showlegend=False,
                  shapes=shapes, annotations=annotations, **layout)

RESET = ("var s=document.createElement('style');"
         "s.innerHTML='html,body{margin:0!important;padding:0!important;overflow:hidden!important;"
         "width:1290px;height:1028px;}';document.head.appendChild(s);")

fig.write_html("out.html", config={"displayModeBar": False, "staticPlot": True}, post_script=RESET)
